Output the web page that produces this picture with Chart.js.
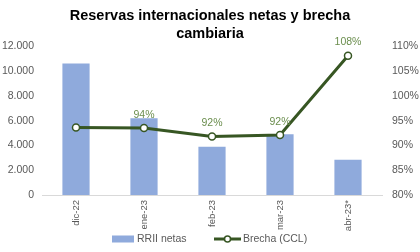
<!DOCTYPE html>
<html>
<head>
<meta charset="utf-8">
<script src="https://cdn.jsdelivr.net/npm/chart.js@4"></script>
<style>
  html, body { margin: 0; padding: 0; background: #fff; }
  #wrap { width: 420px; height: 252px; }
</style>
</head>
<body>
<div id="wrap"><canvas id="chart" width="420" height="252"></canvas></div>
<script>
// Data
const categories = ['dic-22', 'ene-23', 'feb-23', 'mar-23', 'abr-23*'];
const rriiNetas = [10600, 6200, 3900, 4900, 2850];
const brechaCCL = [0.936, 0.935, 0.918, 0.921, 1.081];
const brechaLabels = ['', '94%', '92%', '92%', '108%'];
const leftTicks = [0, 2000, 4000, 6000, 8000, 10000, 12000];
const rightTicks = [0.80, 0.85, 0.90, 0.95, 1.00, 1.05, 1.10];

const BAR_BLUE = '#8faadc';
const LINE_GREEN = '#375623';
const LABEL_GREEN = '#6b8e4e';
const TXT = '#595959';
const FONT = "'Liberation Sans', Arial, sans-serif";

// percent labels above the line points
const pointLabels = {
  id: 'pointLabels',
  afterDatasetsDraw(chart){
    const meta = chart.getDatasetMeta(1);
    const ctx = chart.ctx;
    ctx.save();
    ctx.font = '10.5px ' + FONT;
    ctx.fillStyle = LABEL_GREEN;
    ctx.textAlign = 'center';
    ctx.textBaseline = 'bottom';
    meta.data.forEach((pt, i) => {
      if (!brechaLabels[i]) return;
      ctx.fillText(brechaLabels[i], pt.x, pt.y - 8);
    });
    ctx.restore();
  }
};

// simple bottom legend, spaced like the excel one
const bottomLegend = {
  id: 'bottomLegend',
  afterDraw(chart){
    const ctx = chart.ctx;
    const y = 239;
    const ds = chart.data.datasets;
    ctx.save();
    ctx.font = '10.5px ' + FONT;
    ctx.fillStyle = TXT;
    ctx.textBaseline = 'middle';
    ctx.textAlign = 'left';
    // bar item
    let x = 112;
    ctx.fillStyle = ds[0].backgroundColor;
    ctx.fillRect(x, y - 3.5, 22, 7);
    ctx.fillStyle = TXT;
    ctx.fillText(ds[0].label, x + 25, y);
    // line item
    x = 214;
    ctx.strokeStyle = ds[1].borderColor;
    ctx.lineWidth = 3;
    ctx.beginPath(); ctx.moveTo(x, y); ctx.lineTo(x + 27, y); ctx.stroke();
    ctx.fillStyle = '#fff'; ctx.lineWidth = 1.5;
    ctx.beginPath(); ctx.arc(x + 13.5, y, 3, 0, Math.PI * 2); ctx.fill(); ctx.stroke();
    ctx.fillStyle = TXT;
    ctx.fillText(ds[1].label, x + 29, y);
    ctx.restore();
  }
};

const fmtThousands = v => String(v).replace(/\B(?=(\d{3})+(?!\d))/g, '.');

new Chart(document.getElementById('chart'), {
  data: {
    labels: categories,
    datasets: [
      {
        type: 'bar',
        label: 'RRII netas',
        data: rriiNetas,
        backgroundColor: BAR_BLUE,
        yAxisID: 'y',
        categoryPercentage: 1,
        barPercentage: 0.4,
        order: 2
      },
      {
        type: 'line',
        label: 'Brecha (CCL)',
        data: brechaCCL,
        borderColor: LINE_GREEN,
        borderWidth: 3,
        pointRadius: 3.5,
        pointBorderWidth: 1.5,
        pointBackgroundColor: '#fff',
        pointBorderColor: LINE_GREEN,
        tension: 0,
        yAxisID: 'y1',
        order: 1
      }
    ]
  },
  options: {
    responsive: false,
    animation: false,
    layout: { padding: { left: 0, right: 0, top: 0, bottom: 20 } },
    plugins: {
      title: {
        display: true,
        text: ['Reservas internacionales netas y brecha', 'cambiaria'],
        color: '#000',
        font: { family: FONT, size: 14.5, weight: 'bold', lineHeight: 1.25 },
        padding: { top: 7, bottom: 3 }
      },
      legend: { display: false },
      tooltip: { enabled: false }
    },
    scales: {
      x: {
        grid: { display: false, drawTicks: false },
        border: { color: '#d9d9d9', width: 1 },
        ticks: {
          color: TXT, font: { family: FONT, size: 9.5 },
          minRotation: 90, maxRotation: 90, padding: 5
        },
        afterFit: s => { s.height = 37; }
      },
      y: {
        position: 'left',
        min: 0, max: 12000,
        afterBuildTicks: s => { s.ticks = leftTicks.map(v => ({ value: v })); },
        grid: { display: false, drawTicks: false },
        border: { display: false },
        ticks: { color: TXT, font: { family: FONT, size: 10.5 }, padding: 8, callback: v => fmtThousands(v) },
        afterFit: s => { s.width = 42; }
      },
      y1: {
        position: 'right',
        min: 0.8, max: 1.1,
        afterBuildTicks: s => { s.ticks = rightTicks.map(v => ({ value: v })); },
        grid: { display: false, drawTicks: false },
        border: { display: false },
        ticks: { color: TXT, font: { family: FONT, size: 10.5 }, padding: 10, callback: v => Math.round(v * 100) + '%' },
        afterFit: s => { s.width = 38; }
      }
    }
  },
  plugins: [pointLabels, bottomLegend]
});
</script>
</body>
</html>
